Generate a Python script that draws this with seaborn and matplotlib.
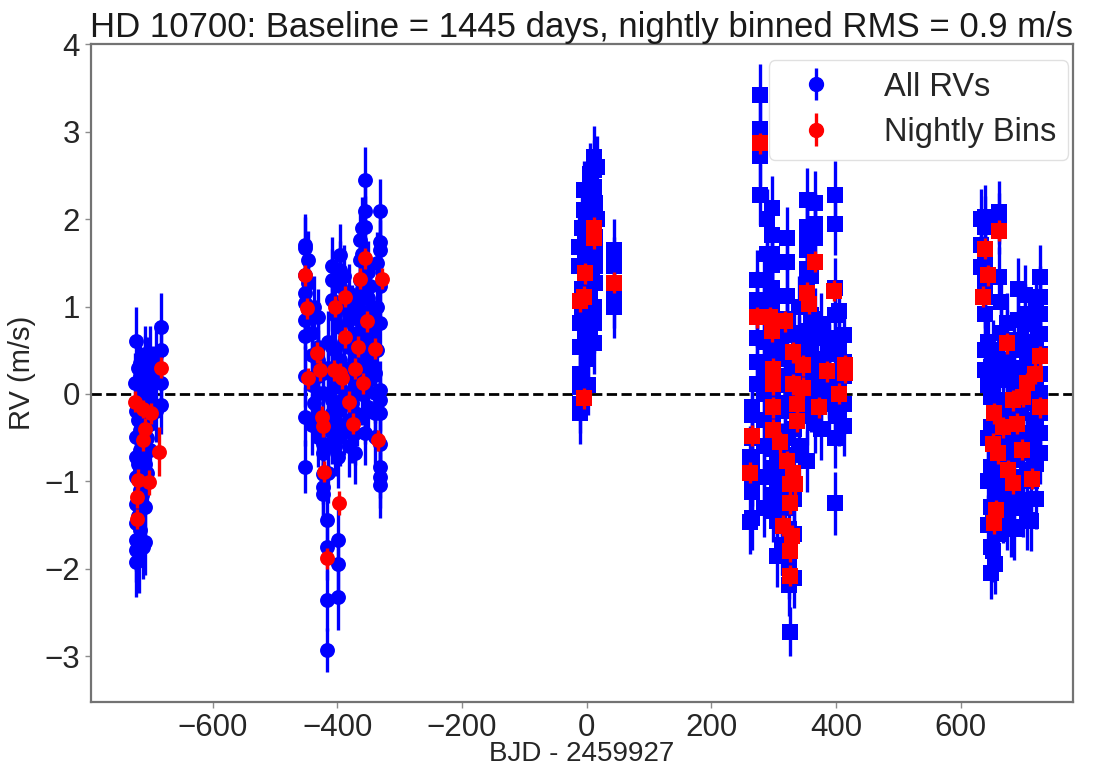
import numpy as np
import pandas as pd
import matplotlib
matplotlib.use("Agg")
import matplotlib.pyplot as plt
import seaborn as sns

# ---------------- data: (BJD - 2459927, RV [m/s], sigma [m/s]) ----------------
season1_all = [
    (-723, 0.61, 0.38), (-725, 0.12, 0.35), (-723, -0.19, 0.33), (-723, -0.49, 0.35),
    (-723, -0.72, 0.30), (-723, -0.95, 0.34), (-723, -1.26, 0.35), (-723, -1.48, 0.33),
    (-723, -1.67, 0.35), (-723, -1.79, 0.36), (-723, -1.92, 0.40),
    (-720, 0.30, 0.35), (-720, -0.30, 0.34), (-720, -0.80, 0.36), (-720, -1.40, 0.35),
    (-718, -1.90, 0.38),
    (-716, 0.35, 0.30), (-716, 0.20, 0.33), (-716, -0.11, 0.35), (-716, -0.41, 0.33),
    (-716, -0.64, 0.32), (-716, -0.87, 0.35), (-716, -1.10, 0.36), (-716, -1.33, 0.35),
    (-716, -1.56, 0.37),
    (-713, 0.10, 0.35), (-713, -0.60, 0.34), (-713, -1.15, 0.36), (-712, -1.75, 0.37),
    (-709, 0.46, 0.32), (-709, 0.31, 0.35), (-709, 0.04, 0.33), (-709, -0.19, 0.34),
    (-709, -0.49, 0.36), (-709, -0.80, 0.33), (-709, -1.02, 0.35), (-709, -1.29, 0.36),
    (-709, -1.69, 0.38),
    (-705, 0.30, 0.35), (-705, -0.10, 0.34), (-705, -0.50, 0.36), (-705, -0.90, 0.35),
    (-700, 0.43, 0.35), (-700, 0.01, 0.34), (-700, -0.34, 0.36), (-700, -0.64, 0.40),
    (-695, 0.20, 0.35), (-690, 0.45, 0.36), (-690, -0.20, 0.35),
    (-682, 0.77, 0.38), (-682, 0.50, 0.35), (-682, 0.13, 0.35), (-682, -0.13, 0.33),
]
season1_bin = [
    (-725, -0.09, 0.12), (-711, -0.17, 0.10), (-698, -0.22, 0.12), (-709, -0.40, 0.12),
    (-711, -0.53, 0.12), (-686, -0.66, 0.28), (-719, -0.98, 0.12), (-702, -1.01, 0.14),
    (-722, -1.18, 0.12), (-721, -1.43, 0.12), (-682, 0.30, 0.12),
]

season2_all = [
    (-452, 1.70, 0.36), (-452, 1.67, 0.35), (-452, 1.36, 0.33), (-452, 1.15, 0.35),
    (-452, 1.04, 0.32), (-452, 0.85, 0.34), (-452, 0.66, 0.36), (-452, 0.20, 0.35),
    (-452, -0.26, 0.34), (-452, -0.83, 0.30),
    (-447, 1.53, 0.34), (-447, 1.27, 0.35), (-447, 0.96, 0.33),
    (-440, 0.70, 0.35), (-440, 0.45, 0.34), (-440, 0.10, 0.36), (-440, -0.35, 0.35),
    (-437, 1.00, 0.35), (-437, -0.10, 0.34),
    (-431, 0.88, 0.32), (-431, 0.54, 0.35), (-431, 0.39, 0.34), (-431, 0.20, 0.36),
    (-431, 0.01, 0.35), (-431, -0.22, 0.33), (-431, -0.49, 0.35),
    (-423, 0.24, 0.35), (-423, 0.01, 0.34), (-423, -0.30, 0.36), (-423, -0.57, 0.35),
    (-423, -0.68, 0.33), (-423, -0.91, 0.35), (-423, -1.06, 0.36), (-423, -1.14, 0.35),
    (-417, -1.44, 0.36), (-417, -1.75, 0.38), (-417, -2.36, 0.35), (-417, -2.93, 0.25),
    (-415, 0.60, 0.35), (-415, 0.30, 0.34), (-415, 0.00, 0.36), (-415, -0.30, 0.35),
    (-415, -0.60, 0.34), (-415, -0.90, 0.35),
    (-409, 1.46, 0.34), (-409, 1.30, 0.36), (-409, 1.07, 0.35), (-409, 0.54, 0.33),
    (-409, 0.24, 0.35), (-409, -0.07, 0.34), (-409, -0.22, 0.36), (-409, -0.45, 0.35),
    (-404, 0.90, 0.35), (-404, 0.50, 0.34), (-404, 0.10, 0.36), (-404, -0.30, 0.35),
    (-404, -0.60, 0.34),
    (-399, -1.67, 0.36), (-399, -1.94, 0.35), (-399, -2.32, 0.38), (-399, -0.72, 0.35),
    (-396, 1.59, 0.35), (-396, 1.42, 0.33), (-396, 1.23, 0.36), (-396, 0.99, 0.34),
    (-396, 0.77, 0.35), (-396, 0.39, 0.36), (-396, 0.08, 0.34), (-396, -0.18, 0.35),
    (-396, -0.49, 0.33),
    (-390, 1.35, 0.35), (-390, 1.00, 0.34), (-390, 0.60, 0.36), (-390, 0.30, 0.35),
    (-390, -0.05, 0.34), (-390, -0.35, 0.35),
    (-382, 1.15, 0.34), (-382, 0.85, 0.35), (-382, 0.54, 0.36), (-382, 0.24, 0.34),
    (-382, 0.01, 0.35), (-382, -0.30, 0.36), (-382, -0.60, 0.35),
    (-377, 0.90, 0.35), (-377, 0.60, 0.34), (-377, 0.20, 0.36), (-377, -0.10, 0.35),
    (-377, -0.45, 0.34),
    (-372, 0.39, 0.33), (-372, 0.08, 0.35), (-372, -0.22, 0.34), (-372, -0.45, 0.36),
    (-372, -0.68, 0.35),
    (-368, 1.00, 0.35), (-368, 0.70, 0.34), (-368, 0.45, 0.36), (-368, 0.10, 0.35),
    (-368, -0.25, 0.34),
    (-364, 1.76, 0.35), (-364, 1.53, 0.34), (-364, 1.30, 0.36), (-364, 1.07, 0.35),
    (-364, 0.85, 0.33), (-364, 0.62, 0.35), (-364, 0.31, 0.34),
    (-360, 1.90, 0.35), (-360, 1.60, 0.34), (-360, 1.20, 0.36), (-360, 0.80, 0.35),
    (-360, 0.40, 0.34), (-360, 0.00, 0.35),
    (-356, 2.45, 0.38), (-356, 2.09, 0.36), (-356, 1.91, 0.35), (-356, 0.08, 0.34),
    (-356, -0.22, 0.35), (-356, -0.45, 0.36),
    (-350, 1.40, 0.35), (-350, 1.10, 0.34), (-350, 0.55, 0.36), (-350, 0.15, 0.35),
    (-350, -0.15, 0.34),
    (-348, 1.23, 0.35), (-348, 0.96, 0.34), (-348, 0.69, 0.36), (-348, 0.39, 0.35),
    (-344, 0.90, 0.35), (-344, 0.70, 0.34), (-344, 0.50, 0.36),
    (-340, 0.24, 0.35), (-340, 0.01, 0.34), (-340, -0.22, 0.36), (-340, -0.49, 0.35),
    (-337, 1.50, 0.35), (-337, 1.00, 0.34), (-337, 0.50, 0.36),
    (-332, 2.09, 0.37), (-332, 1.74, 0.35), (-332, 1.65, 0.34), (-332, 1.23, 0.36),
    (-332, 0.81, 0.35), (-332, 0.04, 0.34), (-332, -0.07, 0.35), (-332, -0.22, 0.36),
    (-332, -0.57, 0.35), (-332, -0.83, 0.36), (-332, -0.95, 0.35), (-332, -1.04, 0.38),
]
season2_bin = [
    (-452, 1.36, 0.12), (-448, 0.98, 0.12), (-433, 0.47, 0.12), (-428, 0.27, 0.12),
    (-447, 0.18, 0.12), (-406, 0.27, 0.12), (-396, 0.24, 0.12), (-393, 0.18, 0.12),
    (-372, 0.29, 0.12), (-388, 1.11, 0.12), (-403, 1.00, 0.12), (-388, 0.65, 0.12),
    (-366, 0.54, 0.12), (-364, 1.32, 0.12), (-356, 1.55, 0.12), (-329, 1.32, 0.12),
    (-352, 0.83, 0.12), (-340, 0.52, 0.12), (-358, 0.12, 0.12), (-382, -0.09, 0.12),
    (-374, -0.34, 0.12), (-424, -0.26, 0.12), (-423, -0.37, 0.12), (-334, -0.53, 0.12),
    (-421, -0.89, 0.12), (-398, -1.25, 0.14), (-417, -1.88, 0.12),
]

season3_all = [
    (11, 2.71, 0.36), (11, 2.56, 0.35), (11, 2.37, 0.34), (16, 2.60, 0.35), (16, 2.00, 0.34),
    (5, 2.52, 0.35), (5, 2.41, 0.34), (5, 2.14, 0.36), (5, 1.99, 0.35),
    (8, 2.20, 0.35), (8, 1.40, 0.34),
    (-5, 2.33, 0.34), (-5, 2.10, 0.35), (-8, 1.90, 0.35), (-8, 1.20, 0.34), (-8, 0.90, 0.35),
    (0, 1.90, 0.35), (0, 1.50, 0.34), (0, 1.20, 0.35), (2, 0.40, 0.35), (2, 0.10, 0.34),
    (13, 2.18, 0.35), (13, 2.03, 0.34), (13, 1.80, 0.36), (13, 1.61, 0.35),
    (13, 1.46, 0.34), (13, 1.27, 0.35),
    (-13, 1.68, 0.35), (-13, 1.46, 0.34),
    (-3, 1.72, 0.35), (-3, 1.53, 0.34), (-3, 1.27, 0.36), (-3, 0.96, 0.35),
    (-3, 0.77, 0.34), (-3, 0.58, 0.35),
    (5, 1.11, 0.34), (5, 0.92, 0.35), (5, 0.73, 0.36),
    (-11, 0.81, 0.35), (-11, 0.54, 0.34), (-11, 0.23, 0.36), (-11, 0.08, 0.35),
    (-11, -0.11, 0.34), (-11, -0.22, 0.35),
    (11, 1.00, 0.35), (11, 0.81, 0.34), (11, 0.58, 0.35),
    (44, 1.65, 0.35), (44, 1.46, 0.34), (44, 1.11, 0.35), (44, 1.00, 0.36),
]
season3_bin = [
    (11, 1.90, 0.12), (11, 1.78, 0.12), (-3, 1.38, 0.12), (-5, 1.11, 0.12),
    (-11, 1.06, 0.12), (44, 1.27, 0.12), (-5, -0.05, 0.12),
]

season4_all = [
    (278, 3.42, 0.36), (278, 3.03, 0.35), (278, 2.72, 0.34), (278, 2.28, 0.35),
    (273, 1.30, 0.35), (273, 1.08, 0.34), (273, 0.90, 0.36), (273, 0.64, 0.35),
    (273, 0.37, 0.34), (273, 0.11, 0.35),
    (265, -0.15, 0.35), (265, -0.24, 0.34), (265, -0.50, 0.36), (265, -0.77, 0.35),
    (265, -0.94, 0.34), (265, -1.12, 0.35), (265, -1.42, 0.36),
    (262, -0.72, 0.35), (262, -1.47, 0.36),
    (285, 1.30, 0.35), (285, 0.95, 0.34), (285, 0.60, 0.36), (285, 0.30, 0.35),
    (285, 0.00, 0.34), (285, -0.30, 0.35), (285, -0.60, 0.36), (285, -0.95, 0.35),
    (285, -1.30, 0.34), (290, 2.00, 0.35), (290, 1.60, 0.34),
    (297, 2.13, 0.36), (297, 1.82, 0.35), (297, 1.60, 0.34), (297, 1.47, 0.35),
    (297, 1.21, 0.36), (297, 1.08, 0.35), (297, 0.90, 0.34), (297, 0.64, 0.35),
    (299, 0.42, 0.35), (299, 0.20, 0.34), (299, -0.06, 0.36), (299, -0.33, 0.35),
    (299, -0.63, 0.34), (299, -0.85, 0.35), (299, -1.16, 0.36), (299, -1.34, 0.35),
    (305, 0.80, 0.35), (305, 0.50, 0.34), (305, 0.20, 0.36), (305, -0.10, 0.35),
    (305, -0.45, 0.34), (305, -0.80, 0.35), (305, -1.10, 0.36), (305, -1.45, 0.35),
    (305, -1.85, 0.36),
    (313, -0.68, 0.35), (313, -0.98, 0.34), (313, -1.25, 0.36), (313, -1.51, 0.35),
    (313, -1.73, 0.34),
    (318, 0.40, 0.35), (318, 0.10, 0.34), (318, -0.20, 0.36), (318, -0.50, 0.35),
    (318, -1.00, 0.34), (318, -1.30, 0.35), (318, -1.75, 0.36),
    (325, -1.55, 0.35), (325, -1.82, 0.34), (325, -1.99, 0.36), (325, -2.19, 0.35),
    (326, -2.72, 0.28),
    (321, 1.78, 0.36), (321, 1.51, 0.35), (321, 1.12, 0.34), (321, 0.86, 0.35),
    (321, 0.68, 0.36),
    (332, 0.70, 0.35), (332, 0.30, 0.34), (332, -0.05, 0.36), (332, -0.40, 0.35),
    (332, -0.70, 0.34), (332, -1.20, 0.35), (332, -1.60, 0.36), (332, -2.10, 0.35),
    (340, 1.00, 0.35), (340, 0.55, 0.34), (340, 0.20, 0.36), (340, -0.25, 0.35),
    (340, -0.60, 0.34),
    (353, 2.22, 0.36), (353, 1.91, 0.35), (353, 1.82, 0.34), (353, 1.65, 0.35),
    (353, 1.43, 0.36), (353, 1.25, 0.35), (353, 0.99, 0.34), (353, 0.72, 0.35),
    (353, 0.46, 0.36), (353, 0.20, 0.35), (353, -0.24, 0.34), (353, -0.77, 0.35),
    (360, 1.35, 0.35), (360, 0.90, 0.34), (360, 0.50, 0.36), (360, 0.20, 0.35),
    (360, -0.10, 0.34),
    (366, 2.19, 0.36), (366, 1.95, 0.35), (366, 1.78, 0.34), (366, 0.86, 0.35),
    (366, 0.64, 0.36), (366, 0.37, 0.35), (366, 0.11, 0.34), (366, -0.33, 0.35),
    (376, 0.80, 0.35), (376, 0.40, 0.34), (376, -0.05, 0.36), (376, -0.40, 0.35),
    (388, 0.64, 0.35), (388, 0.46, 0.34), (388, 0.24, 0.36), (388, 0.07, 0.35),
    (388, -0.11, 0.34),
    (398, 2.28, 0.38), (398, 1.95, 0.36), (398, 1.21, 0.35), (398, 0.90, 0.34),
    (398, 0.64, 0.35), (398, -0.06, 0.36), (398, -0.50, 0.35), (398, -1.25, 0.36),
    (405, 0.95, 0.35), (405, 0.50, 0.34), (405, 0.10, 0.36), (405, -0.25, 0.35),
    (412, 0.68, 0.35), (412, 0.37, 0.34), (412, 0.20, 0.36), (412, -0.11, 0.35),
    (412, -0.37, 0.34),
]
season4_bin = [
    (278, 2.87, 0.12), (273, 0.88, 0.12), (294, 0.88, 0.12), (297, 0.72, 0.12),
    (318, 0.83, 0.12), (331, 0.48, 0.12), (347, 0.33, 0.12), (366, 1.51, 0.12),
    (353, 1.16, 0.12), (356, 1.03, 0.12), (396, 1.18, 0.12), (299, 0.29, 0.12),
    (299, 0.11, 0.12), (331, 0.11, 0.12), (347, 0.07, 0.12), (299, -0.15, 0.12),
    (337, -0.11, 0.12), (337, -0.31, 0.12), (299, -0.41, 0.12), (310, -0.55, 0.12),
    (321, -0.77, 0.12), (331, -0.90, 0.12), (326, -1.03, 0.12), (334, -1.03, 0.12),
    (326, -1.25, 0.12), (315, -1.51, 0.12), (329, -1.62, 0.12), (326, -1.80, 0.12),
    (326, -2.08, 0.12), (265, -0.48, 0.12), (262, -0.90, 0.12), (372, -0.15, 0.12),
    (385, 0.26, 0.12), (414, 0.33, 0.12), (414, 0.24, 0.12), (404, 0.00, 0.12),
]

season5_all = [
    (632, 2.00, 0.35), (632, 1.70, 0.34), (632, 1.45, 0.36),
    (639, 2.03, 0.36), (639, 1.91, 0.35), (639, 1.53, 0.34), (639, 1.42, 0.35),
    (639, 1.26, 0.36), (639, 1.11, 0.35), (639, 0.92, 0.34), (639, 0.50, 0.35),
    (639, 0.27, 0.36),
    (643, 0.60, 0.35), (643, 0.10, 0.34), (643, -0.50, 0.36), (643, -1.00, 0.35),
    (643, -1.50, 0.34),
    (648, 0.31, 0.35), (648, -0.03, 0.34), (648, -0.38, 0.36), (648, -0.83, 0.35),
    (648, -1.29, 0.34), (648, -1.75, 0.35), (648, -2.05, 0.30),
    (651, 0.50, 0.35), (651, 0.00, 0.34), (651, -0.45, 0.36), (651, -0.90, 0.35),
    (651, -1.35, 0.34), (651, -1.80, 0.35),
    (655, 0.16, 0.35), (655, -0.22, 0.34), (655, -0.60, 0.36), (655, -1.06, 0.35),
    (655, -1.52, 0.34), (655, -1.94, 0.35),
    (660, 0.30, 0.35), (660, -0.10, 0.34), (660, -0.45, 0.36), (660, -0.85, 0.35),
    (660, -1.20, 0.34), (660, -1.60, 0.35),
    (662, 2.08, 0.36), (662, 1.95, 0.35), (662, 1.34, 0.34),
    (664, 1.05, 0.35), (664, 0.70, 0.34),
    (668, 0.39, 0.35), (668, -0.07, 0.34), (668, -0.53, 0.36), (668, -0.99, 0.35),
    (668, -1.37, 0.34),
    (674, 0.81, 0.35), (674, 0.62, 0.34), (674, 0.30, 0.35), (674, -0.15, 0.34),
    (674, -0.60, 0.36), (674, -1.10, 0.35), (674, -1.45, 0.34),
    (680, 0.16, 0.35), (680, -0.30, 0.34), (680, -0.76, 0.36), (680, -1.21, 0.35),
    (680, -1.52, 0.34),
    (686, 0.50, 0.35), (686, 0.10, 0.34), (686, -0.30, 0.36), (686, -0.70, 0.35),
    (686, -1.10, 0.34), (686, -1.55, 0.35),
    (692, 1.20, 0.35), (692, 0.85, 0.34),
    (697, 0.62, 0.35), (697, 0.23, 0.34), (697, -0.22, 0.36), (697, -0.68, 0.35),
    (697, -1.21, 0.34),
    (700, 0.30, 0.35), (700, -0.10, 0.34), (700, -0.50, 0.36), (700, -0.95, 0.35),
    (700, -1.30, 0.34),
    (703, 1.13, 0.35), (703, 0.92, 0.34),
    (706, 0.43, 0.35), (706, 0.01, 0.34), (706, -0.45, 0.36), (706, -0.87, 0.35),
    (706, -1.44, 0.34),
    (712, 0.80, 0.35), (712, 0.35, 0.34), (712, -0.05, 0.36), (712, -0.50, 0.35),
    (712, -1.00, 0.34), (712, -1.45, 0.35),
    (720, 1.00, 0.35), (720, 0.60, 0.34), (720, 0.15, 0.36), (720, -0.30, 0.35),
    (720, -0.80, 0.34), (720, -1.20, 0.35),
    (727, 1.34, 0.36), (727, 1.11, 0.35), (727, 0.92, 0.34), (727, 0.69, 0.35),
    (727, 0.46, 0.36), (727, 0.23, 0.35), (727, 0.01, 0.34), (727, -0.22, 0.35),
    (727, -0.45, 0.36), (727, -0.68, 0.35),
]
season5_bin = [
    (662, 1.87, 0.12), (639, 1.66, 0.12), (644, 1.36, 0.12), (636, 1.11, 0.12),
    (674, 0.58, 0.12), (727, 0.43, 0.12), (719, 0.23, 0.12), (706, 0.12, 0.12),
    (700, -0.03, 0.12), (684, -0.07, 0.12), (727, -0.15, 0.12), (654, -0.22, 0.12),
    (668, -0.38, 0.12), (690, -0.34, 0.12), (652, -0.57, 0.12), (660, -0.68, 0.12),
    (698, -0.64, 0.12), (676, -0.87, 0.12), (714, -0.97, 0.12), (684, -1.02, 0.12),
    (657, -1.33, 0.12), (654, -1.48, 0.12),
]

title_text = "HD 10700: Baseline = 1445 days, nightly binned RMS = 0.9 m/s"
x_label = "BJD - 2459927"
y_label = "RV (m/s)"
legend_labels = ["All RVs", "Nightly Bins"]

# ---------------- tidy table ----------------
groups = [
    (season1_all, "All RVs", "o"), (season2_all, "All RVs", "o"),
    (season3_all, "All RVs", "s"), (season4_all, "All RVs", "s"), (season5_all, "All RVs", "s"),
    (season1_bin, "Nightly Bins", "o"), (season2_bin, "Nightly Bins", "o"),
    (season3_bin, "Nightly Bins", "s"), (season4_bin, "Nightly Bins", "s"), (season5_bin, "Nightly Bins", "s"),
]
frames = []
for rows, kind, mk in groups:
    d = pd.DataFrame(rows, columns=["bjd", "rv", "err"])
    d["kind"] = kind
    d["mk"] = mk
    frames.append(d)
df = pd.concat(frames, ignore_index=True)

# ---------------- style ----------------
sns.set_style("ticks")
plt.rcParams["font.family"] = ["Liberation Sans", "DejaVu Sans"]
plt.rcParams["axes.edgecolor"] = "0.45"
plt.rcParams["axes.linewidth"] = 1.6
plt.rcParams["xtick.color"] = "0.55"
plt.rcParams["ytick.color"] = "0.55"
plt.rcParams["xtick.labelcolor"] = "0.15"
plt.rcParams["ytick.labelcolor"] = "0.15"

fig = plt.figure(figsize=(10.95, 7.7), dpi=100)
ax = fig.add_axes([91 / 1095, 1 - 701.7 / 770, (1073 - 91) / 1095, (701.7 - 44.3) / 770])

ax.axhline(0, color="black", ls="--", lw=2, zorder=1)

colors = {"All RVs": "#0000ff", "Nightly Bins": "#ff0000"}
zbase = {"All RVs": 2, "Nightly Bins": 4}
sizes = {"o": 115, "s": 125}
for kind in ["All RVs", "Nightly Bins"]:
    sub = df[df["kind"] == kind]
    ax.errorbar(sub["bjd"], sub["rv"], yerr=sub["err"], fmt="none",
                ecolor=colors[kind], elinewidth=2.4, capsize=0, zorder=zbase[kind])
    for mk in ["o", "s"]:
        part = sub[sub["mk"] == mk]
        sns.scatterplot(data=part, x="bjd", y="rv", marker=mk, s=sizes[mk],
                        color=colors[kind], edgecolor=colors[kind], linewidth=0,
                        zorder=zbase[kind] + 0.5, ax=ax, legend=False)

# legend handles (errorbar style)
h_all = ax.errorbar([np.nan], [np.nan], yerr=[0.3], fmt="o", color="#0000ff",
                    ms=10, elinewidth=2.4)
h_bin = ax.errorbar([np.nan], [np.nan], yerr=[0.3], fmt="o", color="#ff0000",
                    ms=10, elinewidth=2.4)
leg = ax.legend([h_all, h_bin], legend_labels, loc="upper right",
                bbox_to_anchor=(0.995, 0.976), borderaxespad=0, fontsize=23.5,
                frameon=True, fancybox=True, edgecolor="0.85", numpoints=1,
                handlelength=2.2, handletextpad=1.0, borderpad=0.35,
                labelspacing=0.45)

ax.set_xlim(-795, 780)
ax.set_ylim(-3.52, 4.0)
ax.set_xticks([-600, -400, -200, 0, 200, 400, 600])
ax.set_yticks([-3, -2, -1, 0, 1, 2, 3, 4])
ax.tick_params(axis="both", labelsize=22.5, length=4, width=1, pad=4)
ax.set_xlabel(x_label, fontsize=20, color="0.15", labelpad=-1)
ax.set_ylabel(y_label, fontsize=21, color="0.15", labelpad=6)
ax.set_title(title_text, fontsize=25, color="0.1", pad=4)

fig.savefig("out.png", dpi=100)
